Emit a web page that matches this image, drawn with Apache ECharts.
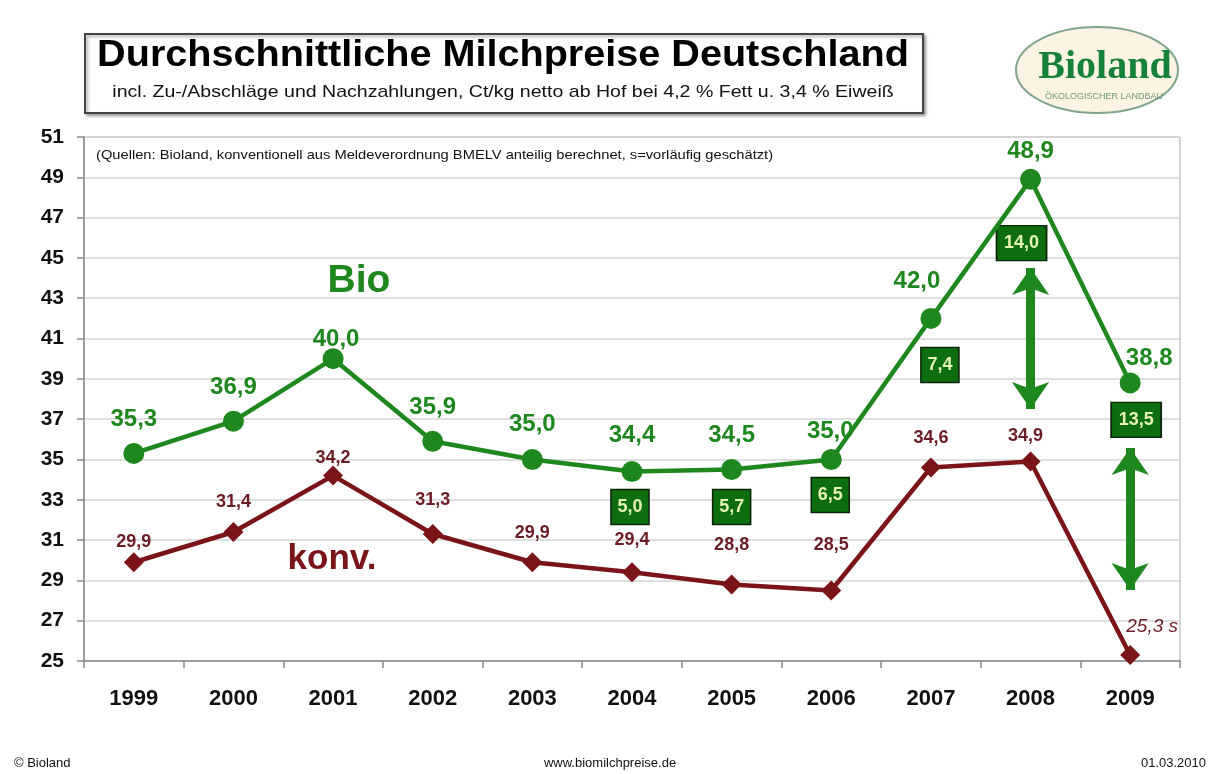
<!DOCTYPE html>
<html>
<head>
<meta charset="utf-8">
<script src="https://cdn.jsdelivr.net/npm/echarts@6/dist/echarts.min.js"></script>
<style>
html,body{margin:0;padding:0;background:#fff;}
#c{width:1216px;height:774px;}
</style>
</head>
<body>
<div id="c"></div>
<script>
const years = ['1999','2000','2001','2002','2003','2004','2005','2006','2007','2008','2009'];
const bio = [35.3, 36.9, 40.0, 35.9, 35.0, 34.4, 34.5, 35.0, 42.0, 48.9, 38.8];
const konv = [29.9, 31.4, 34.2, 31.3, 29.9, 29.4, 28.8, 28.5, 34.6, 34.9, 25.3];
const yTicks = [25, 27, 29, 31, 33, 35, 37, 39, 41, 43, 45, 47, 49, 51];
const diffYears = ['2004','2005','2006','2007','2008','2009'];

const fmt = v => v.toFixed(1).replace('.', ',');
const GREEN = '#1e871e';
const DGREEN = '#0e6d0e';
const RED = '#7a1419';
const FONT = 'Liberation Sans, Arial, sans-serif';

// label offsets (layout only)
const bioOffsets = [[0,-1.5],[0,-1.5],[3,13.5],[0,-1.5],[0,-2.5],[0,-3.5],[0,-1.5],[-1,4.5],[-14,-4.5],[0,4.5],[19,7.5]];
const konvOffsets = [[0,9],[0,-1],[0,11],[0,-5],[0,0],[0,-3],[0,-10],[0,-16],[0,0],[-5,4],[0,0]];
// annotation box positions (value units, x pixel shift)
const boxPos = [[32.64,-2],[32.64,0],[33.24,-1],[39.69,9],[45.73,-9],[36.96,6]];

const bioData = bio.map((v,i)=>({value:v, label:{offset:bioOffsets[i]}}));
const konvData = konv.map((v,i)=>{
  const d = {value:v, label:{offset:konvOffsets[i]}};
  if (i === konv.length-1) {
    d.label = {offset:[22,1], fontStyle:'italic', fontWeight:'normal', color:'#6b1c24', fontSize:19,
               formatter: p => fmt(p.value) + ' s'};
  }
  return d;
});

const boxData = diffYears.map((y,i)=>{
  const idx = years.indexOf(y);
  const d = Math.round((bio[idx]-konv[idx])*10)/10;
  const txt = fmt(d);
  return {coord:[y, boxPos[i][0]], value:txt, symbolOffset:[boxPos[i][1],0],
          symbolSize:[txt.length > 3 ? 50 : 38, 35]};
});

const chart = echarts.init(document.getElementById('c'));
chart.setOption({
  backgroundColor:'#ffffff',
  animation:false,
  textStyle:{fontFamily:FONT},
  grid:{left:84, right:36, top:137, bottom:113, show:true, borderColor:'#a8a8a8', borderWidth:1, backgroundColor:'#fff'},
  xAxis:{
    type:'category', data:years, boundaryGap:true,
    axisLine:{lineStyle:{color:'#8a8a8a', width:1.5}},
    axisTick:{show:true, length:7, lineStyle:{color:'#8a8a8a', width:1.5}},
    axisLabel:{color:'#111', fontSize:22, fontWeight:'bold', margin:27, fontFamily:FONT}
  },
  yAxis:{
    type:'value', min:25, max:51, interval:2,
    axisLine:{show:true, lineStyle:{color:'#8a8a8a', width:1.5}},
    axisTick:{show:true, length:7, lineStyle:{color:'#8a8a8a', width:1.5}},
    splitLine:{lineStyle:{color:'#d4d4d4', width:1.5}},
    axisLabel:{color:'#111', fontSize:21, fontWeight:'bold', margin:20, fontFamily:FONT,
      formatter: v => yTicks.includes(v) ? String(v) : ''}
  },
  series:[
    {
      name:'Bio', type:'line', data:bioData, z:5,
      symbol:'circle', symbolSize:21,
      lineStyle:{color:GREEN, width:4.5},
      itemStyle:{color:GREEN},
      label:{show:true, position:'top', distance:10, color:GREEN, fontSize:24, fontWeight:'bold',
        formatter:p=>fmt(p.value)},
      markPoint:{
        symbol:'rect', silent:true,
        itemStyle:{color:DGREEN, borderColor:'#0a250a', borderWidth:1.5},
        label:{show:true, color:'#e4f4b0', fontSize:18, fontWeight:'bold', formatter:p=>p.value},
        data:boxData
      },
      markLine:{
        silent:true, symbol:['arrow','arrow'], symbolSize:[28,27],
        lineStyle:{color:GREEN, width:9, type:'solid'},
        label:{show:false},
        data:[
          [{coord:['2008',44.5]},{coord:['2008',37.5]}],
          [{coord:['2009',35.57]},{coord:['2009',28.52]}]
        ]
      }
    },
    {
      name:'konv.', type:'line', data:konvData, z:4,
      symbol:'diamond', symbolSize:[20,20],
      lineStyle:{color:RED, width:4.5},
      itemStyle:{color:RED},
      label:{show:true, position:'top', distance:10, color:'#6b1c24', fontSize:18, fontWeight:'bold',
        formatter:p=>fmt(p.value)}
    }
  ],
  graphic:[
    {type:'rect', left:84, top:33, shape:{width:838, height:79}, style:{fill:'#fff', stroke:'#444', lineWidth:2, shadowBlur:3, shadowColor:'rgba(0,0,0,0.35)', shadowOffsetX:2, shadowOffsetY:2}, z:10},
    {type:'text', x:503, y:56, scaleX:1.07, z:11, style:{text:'Durchschnittliche Milchpreise Deutschland', fill:'#000', font:'bold 37px '+FONT, textAlign:'center', textVerticalAlign:'middle'}},
    {type:'text', x:503, y:92, scaleX:1.15, z:11, style:{text:'incl. Zu-/Abschläge und Nachzahlungen, Ct/kg netto ab Hof bei 4,2 % Fett u. 3,4 % Eiweiß', fill:'#111', font:'17px '+FONT, textAlign:'center', textVerticalAlign:'middle'}},
    {type:'ellipse', z:10, shape:{cx:1097, cy:70, rx:81, ry:43}, style:{fill:'#fbf3e3', stroke:'#7fa58a', lineWidth:2}},
    {type:'text', x:1105, y:68, z:11, style:{text:'Bioland', fill:'#16813a', font:'bold 40px Liberation Serif, DejaVu Serif, serif', textAlign:'center', textVerticalAlign:'middle'}},
    {type:'text', x:1104, y:97, z:11, style:{text:'ÖKOLOGISCHER LANDBAU', fill:'#6f9a7a', font:'9px '+FONT, textAlign:'center', textVerticalAlign:'middle'}},
    {type:'text', x:96, y:155, scaleX:1.13, z:11, style:{text:'(Quellen: Bioland, konventionell aus Meldeverordnung BMELV anteilig berechnet, s=vorläufig geschätzt)', fill:'#111', font:'13px '+FONT, textVerticalAlign:'middle'}},
    {type:'text', x:359, y:281, z:11, style:{text:'Bio', fill:GREEN, font:'bold 39px '+FONT, textAlign:'center', textVerticalAlign:'middle'}},
    {type:'text', x:332, y:559, z:11, style:{text:'konv.', fill:RED, font:'bold 35px '+FONT, textAlign:'center', textVerticalAlign:'middle'}},
    {type:'text', x:14, y:763, z:11, style:{text:'© Bioland', fill:'#111', font:'13px '+FONT, textVerticalAlign:'middle'}},
    {type:'text', x:610, y:763, z:11, style:{text:'www.biomilchpreise.de', fill:'#111', font:'13px '+FONT, textAlign:'center', textVerticalAlign:'middle'}},
    {type:'text', x:1206, y:763, z:11, style:{text:'01.03.2010', fill:'#111', font:'13px '+FONT, textAlign:'right', textVerticalAlign:'middle'}}
  ]
});
</script>
</body>
</html>
